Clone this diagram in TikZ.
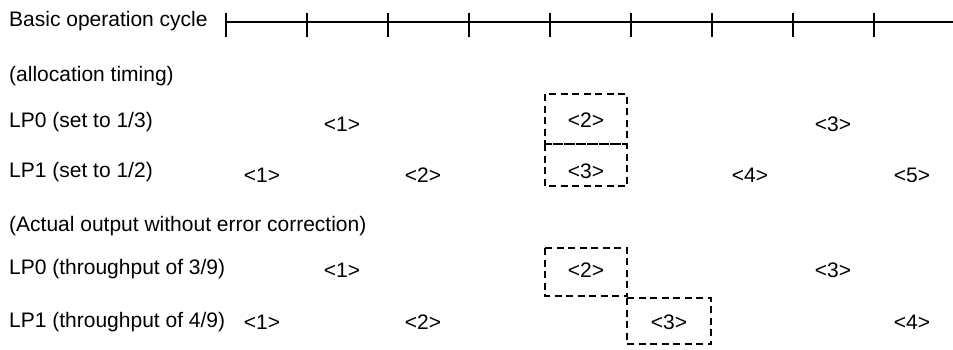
\documentclass[tikz,border=0pt]{standalone}
\usepackage{fontspec}
\setmainfont{Liberation Sans}
\begin{document}
\begin{tikzpicture}[x=1pt,y=-1pt,
  every node/.style={font=\fontsize{21}{25}\selectfont, inner sep=0pt},
  rowtext/.style={anchor=base west},
  slot/.style={anchor=base},
  dbox/.style={draw, line width=2.6pt, dash pattern=on 7pt off 4.5pt, anchor=north west},
  axis/.style={line width=2.6pt}]
\useasboundingbox (0,0) rectangle (953,349);
% timeline
\node[rowtext] (basic) at (9,26) {Basic operation cycle};
\coordinate (tl0) at (226,22);
\coordinate (tlend) at (953,22);
\draw[axis] (tl0) -- (tlend);
\foreach \k in {0,...,8} {
  \coordinate (tk\k) at (226+81*\k,13);
  \draw[axis] (tk\k) -- ++(0,24);
}
% headings
\node[rowtext] (alloc) at (9,81) {(allocation timing)};
\node[rowtext] (lp0a) at (9,127) {LP0 (set to 1/3)};
\node[rowtext] (lp1a) at (9,177) {LP1 (set to 1/2)};
\node[rowtext] (actual) at (9,231) {(Actual output without error correction)};
\node[rowtext] (lp0b) at (9,274) {LP0 (throughput of 3/9)};
\node[rowtext] (lp1b) at (9,327) {LP1 (throughput of 4/9)};
% dashed boxes
\draw[dbox] (545,94) rectangle (627,144);
\draw[dbox] (545,144) rectangle (627,186);
\draw[dbox] (545,248) rectangle (627,296);
\draw[dbox] (627,298) rectangle (711,344);
% allocation LP0
\node[slot] (a01) at (342,131) {<1>};
\node[slot] (a02) at (586,127) {<2>};
\node[slot] (a03) at (833,131) {<3>};
% allocation LP1
\node[slot] (a11) at (262,182) {<1>};
\node[slot] (a12) at (423,182) {<2>};
\node[slot] (a13) at (586,178) {<3>};
\node[slot] (a14) at (750,182) {<4>};
\node[slot] (a15) at (912,182) {<5>};
% actual LP0
\node[slot] (b01) at (342,277) {<1>};
\node[slot] (b02) at (586,277) {<2>};
\node[slot] (b03) at (833,277) {<3>};
% actual LP1
\node[slot] (b11) at (262,329) {<1>};
\node[slot] (b12) at (423,329) {<2>};
\node[slot] (b13) at (669,329) {<3>};
\node[slot] (b14) at (912,329) {<4>};
\end{tikzpicture}
\end{document}
